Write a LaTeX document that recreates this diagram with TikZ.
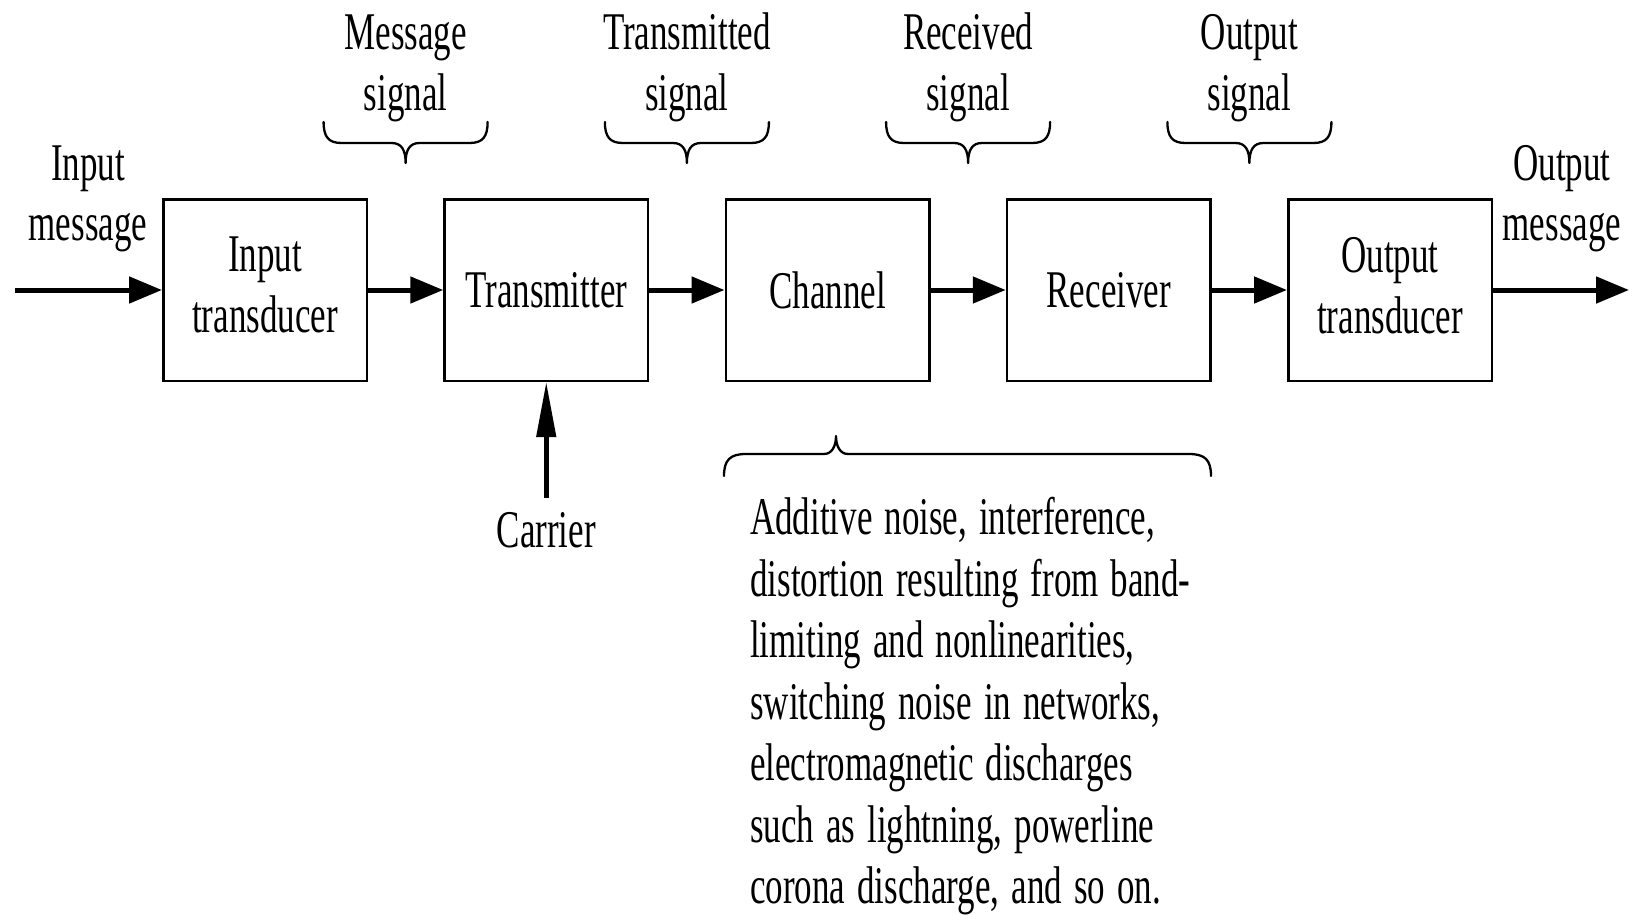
\documentclass[tikz,border=0pt]{standalone}
\usepackage{fontspec}
\setmainfont{Liberation Serif}[FakeStretch=0.66]
\usetikzlibrary{arrows.meta}
\newcommand\tightwords{\fontdimen2\font=12pt\relax\spaceskip=12pt\relax}
\begin{document}
\begin{tikzpicture}[x=1pt,y=-1pt,
  every node/.style={inner sep=0pt, font=\fontsize{53}{61}\selectfont},
  box/.style={draw, line width=2.5pt, minimum width=203.5pt, minimum height=181.5pt,
    text width=200pt, align=center},
  lbl/.style={text width=220pt, align=center, anchor=base},
  flow/.style={line width=5pt, -{Triangle[length=33pt,width=26pt]}},
  carrierarrow/.style={line width=4.5pt, -{Triangle[length=55pt,width=19pt]}},
  bracestyle/.style={line width=2.3pt, line cap=round, line join=round},
  topbrace/.pic={\draw[bracestyle] (-82,122) .. controls (-82,137) and (-77,143) .. (-64,143)
      -- (-14,143) .. controls (-4,143) and (0,150) .. (0,163)
      .. controls (0,150) and (4,143) .. (14,143) -- (64,143)
      .. controls (77,143) and (82,137) .. (82,122);}
]
\path[use as bounding box, fill=white] (0,0) rectangle (1639,915);

% blocks
\node[box] (b1) at (265,290) {Input\\transducer\rule[-10pt]{0pt}{10pt}};
\node[box] (b2) at (546.25,290) {Transmitter};
\node[box] (b3) at (827.5,290) {Channel};
\node[box] (b4) at (1108.75,290) {Receiver};
\node[box] (b5) at (1390,290) {Output\\transducer\rule[-10pt]{0pt}{10pt}};

% end points
\coordinate (inl) at (15,290);
\coordinate (outr) at (1629,290);

% connectors
\draw[flow] (inl) -- (b1);
\draw[flow] (b1) -- (b2);
\draw[flow] (b2) -- (b3);
\draw[flow] (b3) -- (b4);
\draw[flow] (b4) -- (b5);
\draw[flow] (b5) -- (outr);

% side labels
\node[lbl] (inmsg) at (88,180) {Input\\message};
\node[lbl] (outmsg) at (1562,180) {Output\\message};

% signal labels and braces
\node[lbl] (sig1) at (405.6,50) {Message\\signal};
\node[lbl] (sig2) at (686.9,50) {Transmitted\\signal};
\node[lbl] (sig3) at (968.1,50) {Received\\signal};
\node[lbl] (sig4) at (1249.4,50) {Output\\signal};
\pic at (405.6,0) {topbrace};
\pic at (686.9,0) {topbrace};
\pic at (968.1,0) {topbrace};
\pic at (1249.4,0) {topbrace};

% carrier
\node[anchor=base] (carrier) at (546.25,547) {Carrier};
\draw[carrierarrow, shorten <=14pt] (carrier.north) -- (b2.south);

% channel impairments
\draw[bracestyle] (724,476) .. controls (724,460) and (730,454) .. (746,454)
  -- (824,454) .. controls (832,454) and (836,446) .. (836,436)
  .. controls (836,446) and (840,454) .. (848,454)
  -- (1189,454) .. controls (1205,454) and (1211,460) .. (1211,476);
\node[anchor=base west, text width=520pt, align=left,
  font=\fontsize{53}{61.5}\selectfont] (noise) at (750,534.5)
  {\tightwords Additive noise, interference,\\
   distortion resulting from band-\\
   limiting and nonlinearities,\\
   switching noise in networks,\\
   electromagnetic discharges\\
   such as lightning, powerline\\
   corona discharge, and so on.};
\end{tikzpicture}
\end{document}
